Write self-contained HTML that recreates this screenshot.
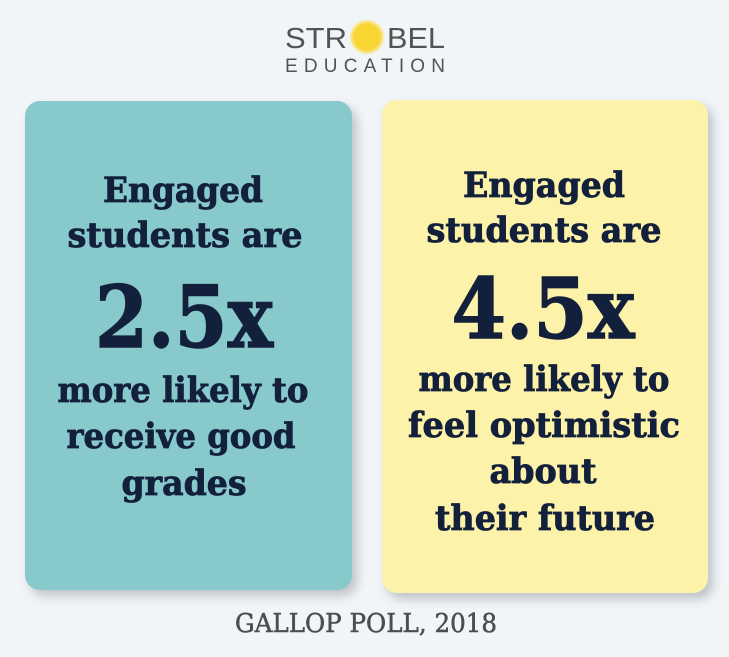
<!DOCTYPE html>
<html>
<head>
<meta charset="utf-8">
<style>
  html,body{margin:0;padding:0;background:#f1f5f8;}
  body{width:729px;height:657px;overflow:hidden;position:relative;}
  .card{position:absolute;border-radius:15px;box-shadow:5px 6px 10px rgba(60,70,80,0.28);}
  svg{position:absolute;left:0;top:0;}
</style>
</head>
<body>
<div class="card" style="left:25px;top:101px;width:327px;height:489px;background:#88c9cc;"></div>
<div class="card" style="left:382px;top:100px;width:326px;height:493px;background:#fdf2a9;"></div>
<svg width="729" height="657" viewBox="0 0 729 657" xmlns="http://www.w3.org/2000/svg">
  <defs>
    <radialGradient id="sun" cx="50%" cy="50%" r="50%">
      <stop offset="0%" stop-color="#f7d634"/>
      <stop offset="70%" stop-color="#f7d634"/>
      <stop offset="85%" stop-color="#f9e27a"/>
      <stop offset="100%" stop-color="#f9e9a8" stop-opacity="0"/>
    </radialGradient>
  </defs>
  <!-- logo -->
  <circle cx="367" cy="37" r="18" fill="url(#sun)"/>
  <g font-family="Liberation Sans, DejaVu Sans, sans-serif" fill="#4f5553">
    <text x="285" y="48" font-size="29" textLength="62" lengthAdjust="spacingAndGlyphs">STR</text>
    <text x="387" y="48" font-size="29" textLength="58" lengthAdjust="spacingAndGlyphs">BEL</text>
    <text x="285" y="72" font-size="19" textLength="160" lengthAdjust="spacing">EDUCATION</text>
  </g>

  <g font-family="DejaVu Serif, Liberation Serif, serif" font-weight="bold" fill="#13203b" stroke="#13203b" stroke-width="0.8" text-anchor="middle">
    <!-- left card -->
    <text x="183" y="202" font-size="35" textLength="160" lengthAdjust="spacingAndGlyphs">Engaged</text>
    <text x="185" y="247" font-size="35" textLength="235" lengthAdjust="spacingAndGlyphs">students are</text>
    <text x="184" y="347" font-size="85" stroke-width="1.4" textLength="178" lengthAdjust="spacingAndGlyphs">2.5x</text>
    <text x="183" y="402" font-size="35" textLength="251" lengthAdjust="spacingAndGlyphs">more likely to</text>
    <text x="181" y="448" font-size="35" textLength="229" lengthAdjust="spacingAndGlyphs">receive good</text>
    <text x="184" y="495" font-size="35" textLength="125" lengthAdjust="spacingAndGlyphs">grades</text>

    <!-- right card -->
    <text x="544" y="197" font-size="35" textLength="162" lengthAdjust="spacingAndGlyphs">Engaged</text>
    <text x="544" y="242" font-size="35" textLength="235" lengthAdjust="spacingAndGlyphs">students are</text>
    <text x="543" y="338" font-size="83" stroke-width="1.4" textLength="183" lengthAdjust="spacingAndGlyphs">4.5x</text>
    <text x="544" y="391" font-size="35" textLength="251" lengthAdjust="spacingAndGlyphs">more likely to</text>
    <text x="544" y="437" font-size="35" textLength="272" lengthAdjust="spacingAndGlyphs">feel optimistic</text>
    <text x="543" y="483" font-size="35" textLength="107" lengthAdjust="spacingAndGlyphs">about</text>
    <text x="545" y="530" font-size="35" textLength="220" lengthAdjust="spacingAndGlyphs">their future</text>
  </g>

  <text x="366" y="632" font-family="DejaVu Serif, Liberation Serif, serif" font-size="26" fill="#4a4e4d" stroke="#4a4e4d" stroke-width="0.5" text-anchor="middle" textLength="262" lengthAdjust="spacingAndGlyphs">GALLOP POLL, 2018</text>
</svg>
</body>
</html>
